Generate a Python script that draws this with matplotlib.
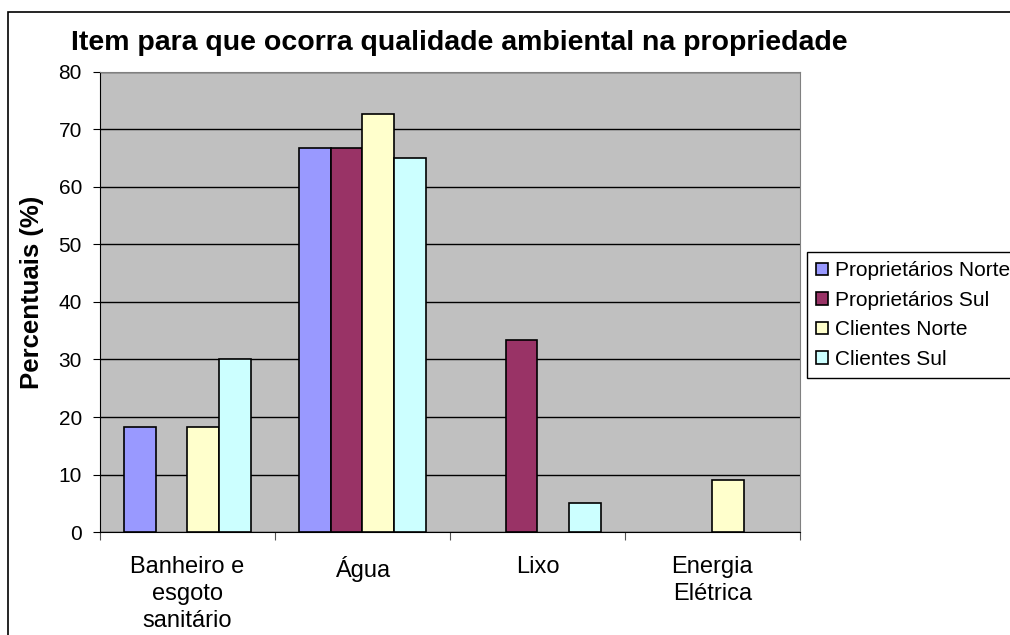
import numpy as np
import matplotlib
matplotlib.use("Agg")
import matplotlib.pyplot as plt
from matplotlib.patches import Rectangle

plt.rcParams['font.family'] = ['Liberation Sans', 'DejaVu Sans']

# data
categories = ['Banheiro e\nesgoto\nsanitário', 'Água', 'Lixo', 'Energia\nElétrica']
series_names = ['Proprietários Norte', 'Proprietários Sul', 'Clientes Norte', 'Clientes Sul']
prop_norte = [18.2, 66.7, 0, 0]
prop_sul = [0, 66.7, 33.3, 0]
cli_norte = [18.2, 72.7, 0, 9.1]
cli_sul = [30.0, 65.0, 5.0, 0]
colors = ['#9999FF', '#993366', '#FFFFCC', '#CCFFFF']

series = [prop_norte, prop_sul, cli_norte, cli_sul]

fig = plt.figure(figsize=(10.1, 6.35), dpi=100)
ax = fig.add_axes([0.099, 0.162, 0.693, 0.725])

# outer chart border (runs off the image on right/bottom)
fig.patches.append(Rectangle((0.008, -0.05), 1.2, 0.05 + 0.981, transform=fig.transFigure,
                             fill=False, edgecolor='black', linewidth=1.2))

ax.set_facecolor('#C0C0C0')
x = np.arange(len(categories))
w = 1 / 5.5
for i, (vals, name, c) in enumerate(zip(series, series_names, colors)):
    h = np.array(vals, dtype=float)
    h[h == 0] = np.nan  # empty slots are not drawn
    ax.bar(x + (i - 1.5) * w, h, width=w, color=c, edgecolor='black',
           linewidth=1.2, label=name, zorder=3)

ax.set_xlim(-0.5, 3.5)
ax.set_ylim(0, 80)
ax.set_yticks(range(0, 81, 10))
ax.yaxis.grid(True, color='black', linewidth=1)
ax.set_axisbelow(True)
ax.tick_params(axis='y', labelsize=15, length=5, direction='out', pad=8)

ax.set_xticks(np.arange(-0.5, 3.6, 1))
ax.set_xticklabels([])
ax.set_xticks(x, minor=True)
ax.set_xticklabels(categories, minor=True, fontsize=17, linespacing=1.3)
ax.tick_params(axis='x', which='major', length=6, direction='out', color='#555555')
ax.tick_params(axis='x', which='minor', length=0, pad=17)

for s in ['top', 'right']:
    ax.spines[s].set_color('#808080')
ax.spines['left'].set_color('black')
ax.spines['bottom'].set_color('black')

fig.text(0.032, 0.539, 'Percentuais (%)', fontsize=18.5, fontweight='bold',
         rotation=90, ha='center', va='center')
fig.text(0.455, 0.932, 'Item para que ocorra qualidade ambiental na propriedade',
         fontsize=20.5, fontweight='bold', ha='center', va='center')

leg = fig.legend(loc='upper left', bbox_to_anchor=(0.799, 0.603), fontsize=15,
                 fancybox=False, edgecolor='black', framealpha=1,
                 handlelength=0.55, handleheight=0.55, handletextpad=0.35,
                 labelspacing=0.5, borderpad=0.45, borderaxespad=0)
leg.get_frame().set_linewidth(1)

fig.savefig('out.png', dpi=100)
